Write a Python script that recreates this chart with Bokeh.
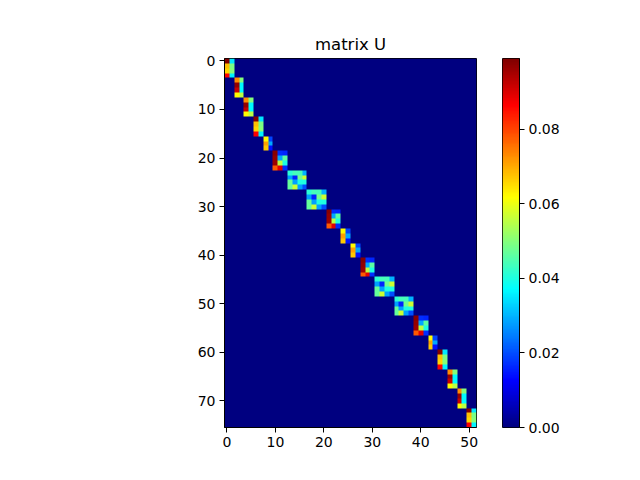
import numpy as np
from bokeh.plotting import figure
from bokeh.layouts import row
from bokeh.models import Range1d, LinearColorMapper, FixedTicker, PrintfTickFormatter
from bokeh.embed import file_html
from bokeh.resources import INLINE


### values (colour -> value on the jet scale)

## 4x2 blocks
block_a1 = [[0.099, 0.035],
            [0.068, 0.049],
            [0.066, 0.050],
            [0.087, 0.036]]
block_a2 = [[0.073, 0.050],
            [0.097, 0.037],
            [0.092, 0.037],
            [0.062, 0.055]]
## 3x2 block
block_b = [[0.062, 0.019],
           [0.071, 0.029],
           [0.067, 0.014]]
## 4x3 block
block_c = [[0.098, 0.017, 0.016],
           [0.097, 0.029, 0.046],
           [0.096, 0.055, 0.040],
           [0.078, 0.089, 0.017]]
## 4x4 block
block_d = [[0.041, 0.044, 0.044, 0.030],
           [0.028, 0.016, 0.048, 0.057],
           [0.047, 0.028, 0.040, 0.040],
           [0.047, 0.057, 0.028, 0.020]]

# order of the blocks along the diagonal
block_order = ["a1", "a2", "a2", "a1", "b", "c", "d", "d", "c", "b",
               "b", "c", "d", "d", "c", "b", "a1", "a2", "a2", "a1"]

n_rows = 76
n_cols = 52
vmax = 0.099
cbar_ticks = [0.0, 0.02, 0.04, 0.06, 0.08]
x_ticks = [0, 10, 20, 30, 40, 50]
y_ticks = [0, 10, 20, 30, 40, 50, 60, 70]


def build_matrix():
    blocks = {"a1": block_a1, "a2": block_a2, "b": block_b,
              "c": block_c, "d": block_d}
    U = np.zeros((n_rows, n_cols))
    r = 0
    c = 0
    for name in block_order:
        b = np.array(blocks[name])
        h, w = b.shape
        U[r:r + h, c:c + w] = b
        r += h
        c += w
    return U


def jet(n=256):
    t = np.linspace(0, 1, n)
    r = np.clip(1.5 - np.abs(4 * t - 3), 0, 1)
    g = np.clip(1.5 - np.abs(4 * t - 2), 0, 1)
    b = np.clip(1.5 - np.abs(4 * t - 1), 0, 1)
    return ["#%02x%02x%02x" % (int(round(a * 255)), int(round(bb * 255)), int(round(cc * 255)))
            for a, bb, cc in zip(r, g, b)]


def style_axis(ax):
    ax.major_tick_out = 5
    ax.major_tick_in = 0
    ax.minor_tick_line_color = None
    ax.axis_line_color = "black"
    ax.major_tick_line_color = "black"
    ax.major_label_text_font = font
    ax.major_label_text_font_size = "14px"
    ax.major_label_text_color = "black"
    ax.major_label_standoff = 4


U = build_matrix()
mapper = LinearColorMapper(palette=jet(), low=0.0, high=vmax)

font = "DejaVu Sans"

## main matrix plot
p = figure(width=490, height=480,
           x_range=Range1d(-0.5, n_cols - 0.5),
           y_range=Range1d(n_rows - 0.5, -0.5),
           output_backend="svg", toolbar_location=None,
           min_border_left=224, min_border_right=14,
           min_border_top=58, min_border_bottom=53,
           title="matrix U")

p.image(image=[U], x=-0.5, y=-0.5, dw=n_cols, dh=n_rows, color_mapper=mapper)

p.title.align = "center"
p.title.text_font = font
p.title.text_font_size = "16.5px"
p.title.text_font_style = "normal"
p.title.text_color = "black"

p.grid.visible = False
p.outline_line_color = "black"
p.background_fill_color = "white"
p.border_fill_color = "white"

p.xaxis.ticker = FixedTicker(ticks=x_ticks)
p.yaxis.ticker = FixedTicker(ticks=y_ticks)
style_axis(p.xaxis[0])
style_axis(p.yaxis[0])

## colour bar as its own narrow figure
cb = figure(width=150, height=480,
            x_range=Range1d(0, 1), y_range=Range1d(0, vmax),
            y_axis_location="right",
            output_backend="svg", toolbar_location=None,
            min_border_left=12, min_border_right=121,
            min_border_top=58, min_border_bottom=53)
scale = np.linspace(0, vmax, 256).reshape(256, 1)
cb.image(image=[scale], x=0, y=0, dw=1, dh=vmax, color_mapper=mapper)
cb.xaxis.visible = False
cb.grid.visible = False
cb.outline_line_color = "black"
cb.border_fill_color = "white"
cb.yaxis.ticker = FixedTicker(ticks=cbar_ticks)
cb.yaxis.formatter = PrintfTickFormatter(format="%.2f")
style_axis(cb.yaxis[0])

layout = row(p, cb)

open("out.html", "w").write(file_html(layout, INLINE))
